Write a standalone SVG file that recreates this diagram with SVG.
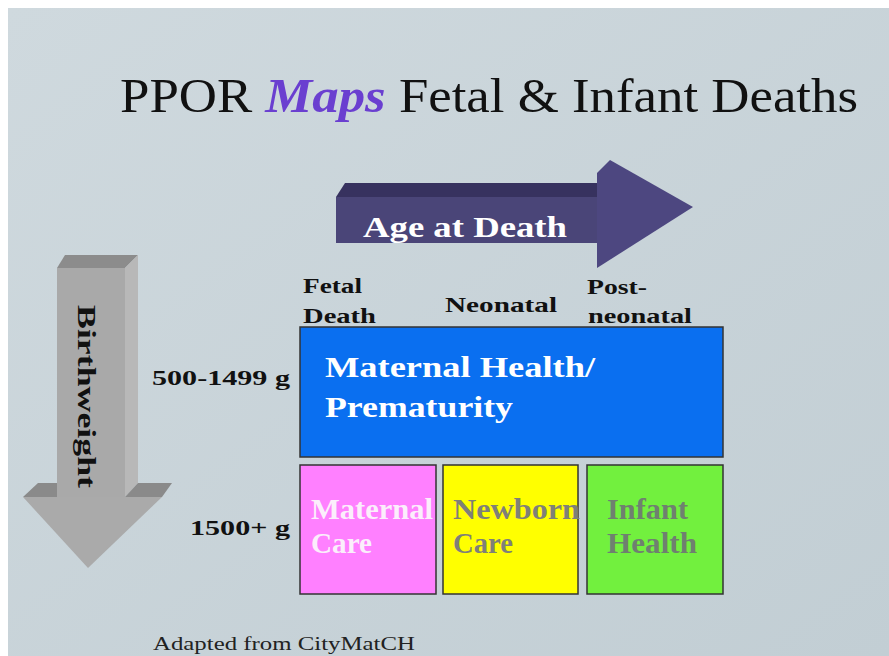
<svg xmlns="http://www.w3.org/2000/svg" width="889" height="656" viewBox="0 0 889 656">
<defs>
<linearGradient id="bg" x1="0" y1="0" x2="1" y2="1">
<stop offset="0" stop-color="#cfd9de"/>
<stop offset="1" stop-color="#c2ced4"/>
</linearGradient>
<style>
.serif{font-family:"Liberation Serif","Times New Roman",serif;}
.lbl{font-family:"Liberation Serif",serif;font-weight:bold;font-size:22px;fill:#111;}
.box{stroke:#333;stroke-width:1.5;}
.bt{font-family:"Liberation Serif",serif;font-weight:bold;font-size:30px;}
</style>
</defs>
<rect width="889" height="656" fill="#ffffff"/>
<rect x="8" y="8" width="881" height="648" fill="url(#bg)"/>
<text class="serif" x="120" y="112" font-size="48" fill="#111" textLength="738" lengthAdjust="spacingAndGlyphs">PPOR <tspan fill="#6a3fd0" font-style="italic" font-weight="bold">Maps</tspan> Fetal &amp; Infant Deaths</text>
<g id="age-arrow">
<polygon points="336,197 345,183 600,183 597,197" fill="#37325f"/>
<rect x="336" y="197" width="262" height="46" fill="#4a4578"/>
<polygon points="597,173 610,160 693,207 597,268" fill="#4d4780"/>
<text x="363" y="237" class="serif" font-size="30" font-weight="bold" fill="#ffffff" textLength="204" lengthAdjust="spacingAndGlyphs">Age at Death</text>
</g>
<g id="birthweight-arrow">
<polygon points="57,268 65,255 138,255 125,268" fill="#8c8c8c"/>
<polygon points="125,268 138,255 138,483 125,497" fill="#b8b8b8"/>
<rect x="57" y="268" width="68" height="229" fill="#a9a9a9"/>
<polygon points="23,497 38,483 57,483 57,497" fill="#8a8a8a"/>
<polygon points="125,497 138,483 172,483 162,497" fill="#8a8a8a"/>
<polygon points="23,497 162,497 88,568" fill="#aaaaaa"/>
<text transform="translate(78,305) rotate(90)" class="serif" font-size="26" font-weight="bold" fill="#111" textLength="183" lengthAdjust="spacingAndGlyphs">Birthweight</text>
</g>
<g id="col-labels">
<text class="lbl" x="303" y="293" textLength="59" lengthAdjust="spacingAndGlyphs">Fetal</text>
<text class="lbl" x="303" y="323" textLength="73" lengthAdjust="spacingAndGlyphs">Death</text>
<text class="lbl" x="445" y="312" textLength="112" lengthAdjust="spacingAndGlyphs">Neonatal</text>
<text class="lbl" x="587" y="294" textLength="60" lengthAdjust="spacingAndGlyphs">Post-</text>
<text class="lbl" x="588" y="323" textLength="104" lengthAdjust="spacingAndGlyphs">neonatal</text>
</g>
<g id="row-labels">
<text class="lbl" x="152" y="385" font-size="23" textLength="138" lengthAdjust="spacingAndGlyphs">500-1499 g</text>
<text class="lbl" x="190" y="535" font-size="23" textLength="100" lengthAdjust="spacingAndGlyphs">1500+ g</text>
</g>
<g id="maternal-health">
<rect class="box" x="300" y="327" width="423" height="130" fill="#0a6ff0"/>
<text class="bt" x="325" y="377" fill="#ffffff" textLength="270" lengthAdjust="spacingAndGlyphs">Maternal Health/</text>
<text class="bt" x="325" y="417" fill="#ffffff" textLength="188" lengthAdjust="spacingAndGlyphs">Prematurity</text>
</g>
<g id="maternal-care">
<rect class="box" x="300" y="465" width="136" height="129" fill="#ff80ff"/>
<text class="bt" x="311" y="519" font-size="29" fill="#fbeefb" textLength="122" lengthAdjust="spacingAndGlyphs">Maternal</text>
<text class="bt" x="311" y="553" font-size="29" fill="#fbeefb" textLength="61" lengthAdjust="spacingAndGlyphs">Care</text>
</g>
<g id="newborn-care">
<rect class="box" x="443" y="465" width="135" height="129" fill="#ffff00"/>
<text class="bt" x="453" y="519" font-size="29" fill="#7f8078" textLength="127" lengthAdjust="spacingAndGlyphs">Newborn</text>
<text class="bt" x="453" y="553" font-size="29" fill="#7f8078" textLength="60" lengthAdjust="spacingAndGlyphs">Care</text>
</g>
<g id="infant-health">
<rect class="box" x="587" y="465" width="136" height="129" fill="#72f03e"/>
<text class="bt" x="607" y="519" font-size="29" fill="#6f8070" textLength="81" lengthAdjust="spacingAndGlyphs">Infant</text>
<text class="bt" x="607" y="553" font-size="29" fill="#6f8070" textLength="90" lengthAdjust="spacingAndGlyphs">Health</text>
</g>
<text class="serif" x="153" y="650" font-size="18" fill="#222" textLength="262" lengthAdjust="spacingAndGlyphs">Adapted from CityMatCH</text>
</svg>
